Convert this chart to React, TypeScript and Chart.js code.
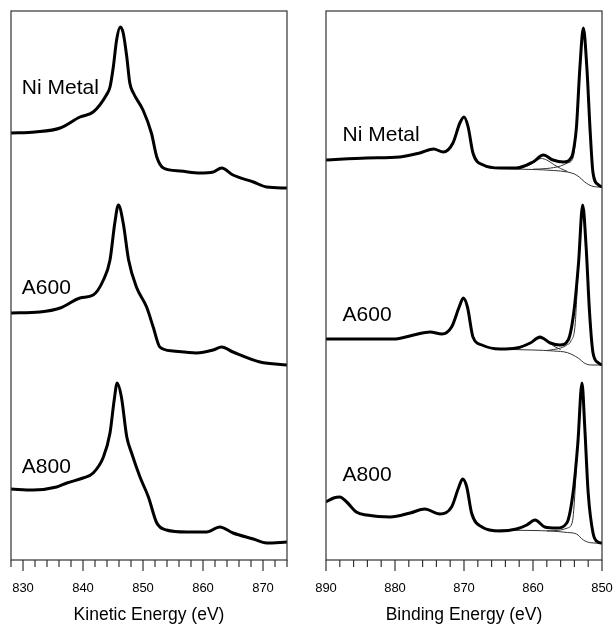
import React, { useEffect, useRef } from "react";
import { Chart, registerables } from "chart.js";
Chart.register(...registerables);

const FONT = "Arial, 'Liberation Sans', sans-serif";

// ---- Left panel: Kinetic Energy (Auger) ----
const keNiX = [828, 832, 836.2, 839.5, 841.7, 843.9, 844.5, 845.05, 845.6, 846.2, 846.7, 847.3, 847.8, 848.4, 850, 851.4, 852.3, 853.4, 856.2, 859.5, 861.7, 863.1, 865, 868.4, 870.6, 874];
const keNiY = [427, 428, 432, 443, 448, 465, 473, 493, 520, 533, 527, 503, 477, 467, 450, 427, 403, 392, 389, 387, 388, 392, 385, 378, 373, 372];
const keA600X = [828, 832.8, 836.2, 839.5, 841.7, 843.4, 844.5, 845.3, 845.9, 846.7, 847.6, 848.9, 850.6, 851.7, 852.8, 855, 858.9, 861.7, 863.1, 865, 869.5, 874];
const keA600Y = [247, 248, 252, 262, 265, 280, 300, 337, 355, 337, 300, 273, 253, 233, 213, 209, 207, 210, 213, 208, 198, 195];
const keA800X = [828, 831.7, 835.6, 837.3, 840, 841.7, 843.4, 844.5, 845.2, 845.7, 846.4, 847.3, 848.1, 849.5, 850.9, 852.3, 853.9, 857.3, 860.6, 862.8, 865, 868.4, 870.6, 874];
const keA800Y = [71, 70, 73, 77, 82, 87, 103, 127, 160, 177, 163, 123, 107, 83, 63, 37, 30, 28, 28, 33, 27, 21, 17, 18];

// ---- Right panel: Binding Energy (Ni 2p) ----
const beNiX = [890, 884.1, 879.3, 876.4, 874.4, 873, 871.6, 870.6, 870, 869.4, 868.7, 867.2, 864.8, 862.4, 860, 858.5, 857.1, 855.6, 854.4, 854.05, 853.7, 853.2, 852.7, 852.2, 851.7, 851.3, 850.5, 850];
const beNiY = [400, 402, 403, 407, 411, 408, 417, 437, 443, 433, 407, 395, 392, 392, 398, 405, 400, 398, 403, 413, 433, 493, 532, 493, 427, 387, 375, 373];
const beA600X = [890, 884.1, 880.2, 877.3, 874.9, 873.2, 871.8, 870.7, 870.1, 869.5, 868.7, 867.4, 864.8, 862.4, 860.4, 859, 857.5, 856.1, 854.9, 854.1, 853.4, 852.8, 852.3, 851.8, 851.3, 850.5, 850];
const beA600Y = [221, 221, 221, 225, 228, 226, 233, 253, 262, 253, 223, 215, 211, 212, 217, 223, 217, 215, 220, 247, 297, 355, 313, 247, 207, 197, 195];
const beA800X = [890, 888.9, 888, 887, 885.6, 884.1, 880.7, 877.8, 875.7, 873.5, 871.8, 870.8, 870.2, 869.6, 868.9, 867.4, 864.8, 862.4, 860.9, 859.7, 858.3, 856.6, 855.1, 854.2, 853.5, 852.9, 852.5, 852, 851.3, 850.6, 850];
const beA800Y = [58, 62, 63, 58, 48, 45, 43, 47, 51, 46, 53, 72, 81, 73, 47, 33, 29, 31, 35, 40, 33, 32, 37, 67, 117, 177, 133, 67, 27, 18, 17];

// fit components (thin lines)
const bgNiX = [865, 860, 857, 855, 854, 853.3, 852.5, 851.5, 850];
const bgNiY = [391.5, 390.5, 389.5, 388, 386, 383, 378, 374, 372.7];
const satNiX = [862, 860.5, 859.5, 858.8, 858, 857, 856, 855];
const satNiY = [391.2, 395, 399.5, 401.5, 400, 395.5, 391.5, 388.5];
const mainNiX = [860, 858, 856, 855, 854.2, 853.7, 853.2, 852.7, 852.2, 851.7, 851.3, 850.5, 850];
const mainNiY = [390.8, 391.5, 394, 397, 402, 433, 493, 532, 493, 427, 387, 375, 373];

const bg600X = [865, 860, 857, 855, 853.4, 852.5, 851.5, 850];
const bg600Y = [210.7, 210, 209, 207.3, 201.7, 196.7, 195, 195];
const sat600X = [862, 860.5, 859, 858, 857, 856];
const sat600Y = [211.7, 216, 221.5, 219, 214, 210.5];
const main600X = [858, 856, 855.1, 854.5, 853.9, 853.4, 852.8, 852.3, 851.8, 851.3, 850.5, 850];
const main600Y = [209.5, 212, 215, 219, 235, 297, 355, 313, 247, 207, 197, 195];

const bg800X = [865, 860, 857.5, 855, 853.7, 852.7, 851.7, 850];
const bg800Y = [30, 29.5, 29, 27.5, 26, 20, 17.3, 16.7];
const main800X = [858, 856, 855, 854.3, 853.5, 852.9, 852.5, 852, 851.3, 850.6, 850];
const main800Y = [29, 30, 32, 38, 117, 177, 133, 67, 27, 18, 17];

// sample labels: [text, x, y]
const leftLabels: [string, number, number][] = [["Ni Metal", 829.8, 472], ["A600", 829.8, 272], ["A800", 829.8, 93]];
const rightLabels: [string, number, number][] = [["Ni Metal", 887.6, 425], ["A600", 887.6, 245], ["A800", 887.6, 85]];

const pts = (xs: number[], ys: number[]) => xs.map((x, i) => ({ x, y: ys[i] }));

const thick = (xs: number[], ys: number[]) => ({
  data: pts(xs, ys),
  borderColor: "#000",
  borderWidth: 3,
  pointRadius: 0,
  cubicInterpolationMode: "monotone" as const,
  fill: false,
  order: 1,
});
const thin = (xs: number[], ys: number[]) => ({
  data: pts(xs, ys),
  borderColor: "#333",
  borderWidth: 1,
  pointRadius: 0,
  cubicInterpolationMode: "monotone" as const,
  fill: false,
  order: 2,
});

const boxPlugin = (labels: [string, number, number][]) => ({
  id: "box",
  afterDraw(chart: any) {
    const { ctx, chartArea: a, scales } = chart;
    const xs = scales.x;
    const ys = scales.y;
    ctx.save();
    ctx.strokeStyle = "#333";
    ctx.lineWidth = 1.2;
    ctx.strokeRect(a.left, a.top, a.right - a.left, a.bottom - a.top);
    ctx.beginPath();
    for (const t of xs.ticks) {
      const px = xs.getPixelForValue(t.value);
      const len = Math.round(t.value) % 10 === 0 ? 11 : 7;
      ctx.moveTo(px, a.bottom);
      ctx.lineTo(px, a.bottom + len);
    }
    ctx.stroke();
    ctx.fillStyle = "#000";
    ctx.font = `21px ${FONT}`;
    ctx.textAlign = "left";
    ctx.textBaseline = "middle";
    for (const [txt, x, y] of labels) {
      ctx.fillText(txt, xs.getPixelForValue(x), ys.getPixelForValue(y));
    }
    ctx.restore();
  },
});

function makeOptions(min: number, max: number, reverse: boolean, title: string, pad: any) {
  return {
    animation: false,
    responsive: false,
    layout: { padding: pad },
    plugins: { legend: { display: false }, tooltip: { enabled: false } },
    scales: {
      x: {
        type: "linear",
        min,
        max,
        reverse,
        afterFit: (scale: any) => {
          scale.paddingLeft = 0;
          scale.paddingRight = 0;
          scale.height = 64;
        },
        grid: { drawOnChartArea: false, color: "rgba(0,0,0,0)", tickLength: 11 },
        border: { display: false },
        ticks: {
          stepSize: 2,
          autoSkip: false,
          maxRotation: 0,
          padding: 10,
          color: "#000",
          font: { family: FONT, size: 13, lineHeight: 1.2 },
          callback: (v: any) => (Math.round(v) % 10 === 0 ? String(Math.round(v)) : ""),
        },
        title: {
          display: true,
          text: title,
          color: "#000",
          font: { family: FONT, size: 17.5, lineHeight: 1 },
          padding: { top: 8, bottom: 0 },
        },
      },
      y: { type: "linear", min: 0, max: 549, display: false },
    },
  } as any;
}

export default function App() {
  const leftRef = useRef<HTMLCanvasElement>(null);
  const rightRef = useRef<HTMLCanvasElement>(null);

  useEffect(() => {
    const left = new Chart(leftRef.current!, {
      type: "line",
      data: {
        datasets: [thick(keNiX, keNiY), thick(keA600X, keA600Y), thick(keA800X, keA800Y)] as any,
      },
      options: makeOptions(828, 874, false, "Kinetic Energy (eV)", { left: 11, right: 13, top: 11, bottom: 0 }),
      plugins: [boxPlugin(leftLabels)],
    });
    const right = new Chart(rightRef.current!, {
      type: "line",
      data: {
        datasets: [
          thick(beNiX, beNiY), thick(beA600X, beA600Y), thick(beA800X, beA800Y),
          thin(bgNiX, bgNiY), thin(satNiX, satNiY), thin(mainNiX, mainNiY),
          thin(bg600X, bg600Y), thin(sat600X, sat600Y), thin(main600X, main600Y),
          thin(bg800X, bg800Y), thin(main800X, main800Y),
        ] as any,
      },
      options: makeOptions(850, 890, true, "Binding Energy (eV)", { left: 26, right: 14, top: 11, bottom: 0 }),
      plugins: [boxPlugin(rightLabels)],
    });
    return () => {
      left.destroy();
      right.destroy();
    };
  }, []);

  return (
    <div style={{ position: "absolute", left: 0, top: 0, width: 616, height: 624, background: "#fff", overflow: "hidden" }}>
      <canvas ref={leftRef} width={300} height={624} style={{ position: "absolute", left: 0, top: 0 }} />
      <canvas ref={rightRef} width={316} height={624} style={{ position: "absolute", left: 300, top: 0 }} />
    </div>
  );
}
